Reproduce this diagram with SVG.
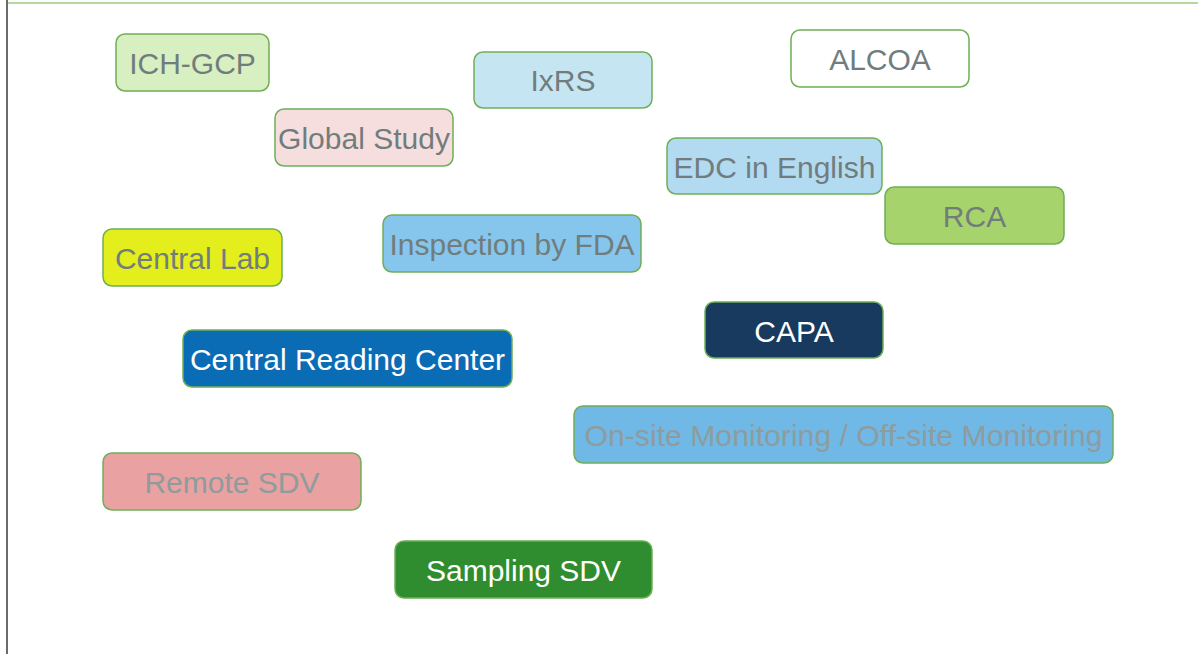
<svg xmlns="http://www.w3.org/2000/svg" width="1198" height="654" viewBox="0 0 1198 654">
  <style>
    .box { stroke: #6fae57; stroke-width: 1.5; }
    .lbl { font-family: "Liberation Sans", Arial, sans-serif; font-size: 30px; text-anchor: middle; fill: #717d7c; }
    .light { fill: #ffffff; }
    .faint { fill: #8e9c9e; }
  </style>
  <rect x="0" y="0" width="1198" height="654" fill="#ffffff"/>
  <!-- frame lines -->
  <line x1="7" y1="3" x2="1198" y2="3" stroke="#9ccb7e" stroke-width="1.5"/>
  <line x1="7" y1="0" x2="7" y2="654" stroke="#6b6b6b" stroke-width="2"/>

  <g id="ich-gcp">
    <rect class="box" x="116" y="34" width="153" height="57" rx="9" fill="#d8efc2"/>
    <text class="lbl" x="192.5" y="74">ICH-GCP</text>
  </g>
  <g id="ixrs">
    <rect class="box" x="474" y="52" width="178" height="56" rx="9" fill="#c6e5f3"/>
    <text class="lbl" x="563" y="91">IxRS</text>
  </g>
  <g id="alcoa">
    <rect class="box" x="791" y="30" width="178" height="57" rx="9" fill="#ffffff"/>
    <text class="lbl" x="880" y="70">ALCOA</text>
  </g>
  <g id="global-study">
    <rect class="box" x="275" y="109" width="178" height="57" rx="9" fill="#f6dede"/>
    <text class="lbl" x="364" y="149">Global Study</text>
  </g>
  <g id="edc">
    <rect class="box" x="667" y="138" width="215" height="56" rx="9" fill="#b2daf1"/>
    <text class="lbl" x="774.5" y="178">EDC in English</text>
  </g>
  <g id="rca">
    <rect class="box" x="885" y="187" width="179" height="57" rx="9" fill="#a7d36c"/>
    <text class="lbl" x="974.5" y="227">RCA</text>
  </g>
  <g id="central-lab">
    <rect class="box" x="103" y="229" width="179" height="57" rx="9" fill="#e4ee1c"/>
    <text class="lbl" x="192.5" y="269">Central Lab</text>
  </g>
  <g id="inspection">
    <rect class="box" x="383" y="215" width="258" height="57" rx="9" fill="#86c6ec"/>
    <text class="lbl" x="512" y="255">Inspection by FDA</text>
  </g>
  <g id="capa">
    <rect class="box" x="705" y="302" width="178" height="56" rx="9" fill="#173a5e"/>
    <text class="lbl light" x="794" y="342">CAPA</text>
  </g>
  <g id="central-reading-center">
    <rect class="box" x="183" y="330" width="329" height="57" rx="9" fill="#0b6cb6"/>
    <text class="lbl light" x="347.5" y="370">Central Reading Center</text>
  </g>
  <g id="monitoring">
    <rect class="box" x="574" y="406" width="539" height="57" rx="9" fill="#70b8e6"/>
    <text class="lbl faint" x="843.5" y="446" textLength="518" lengthAdjust="spacingAndGlyphs">On-site Monitoring / Off-site Monitoring</text>
  </g>
  <g id="remote-sdv">
    <rect class="box" x="103" y="453" width="258" height="57" rx="9" fill="#e9a1a1"/>
    <text class="lbl faint" x="232" y="493">Remote SDV</text>
  </g>
  <g id="sampling-sdv">
    <rect class="box" x="395" y="541" width="257" height="57" rx="9" fill="#2f8d30"/>
    <text class="lbl light" x="523.5" y="581">Sampling SDV</text>
  </g>

  <g id="connectors"></g>
</svg>
